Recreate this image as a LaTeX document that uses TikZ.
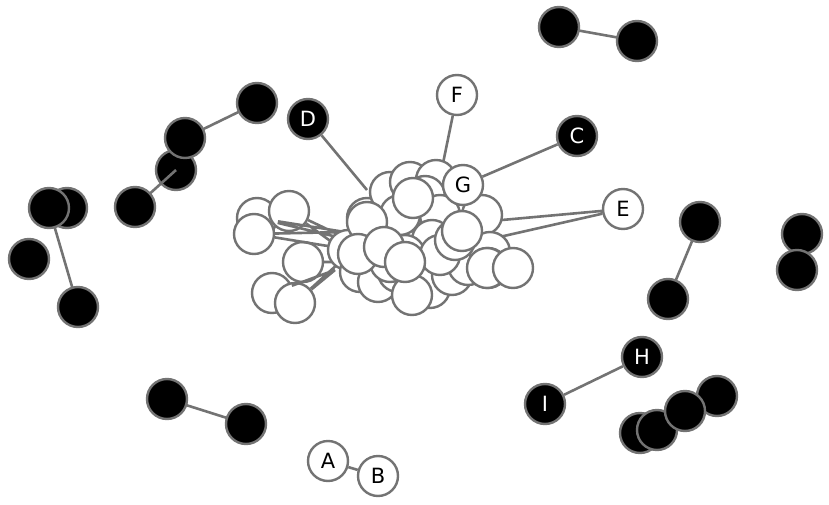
\documentclass[tikz,border=0pt]{standalone}
\usepackage{fontspec}
\setmainfont{DejaVu Sans}
\begin{document}
\begin{tikzpicture}[x=1pt,y=-1pt,
 wn/.style={circle,draw=gray!90!black,line width=2.4pt,fill=white,minimum size=40pt,inner sep=0pt,font=\fontsize{21}{21}\selectfont},
 bn/.style={wn,fill=black,text=white},
 ed/.style={draw=gray!90!black,line width=2.6pt}]
\useasboundingbox (0,0) rectangle (829,505);
\foreach \n/\x/\y in {c1/367/190,c2/440/178,c3/480/222,c4/495/238,c5/350/240,c6/345/232,c7/340/248,c8/335/270,c9/340/262}
  \coordinate (\n) at (\x,\y);
\node[wn] (L1) at (257,218) {};
\node[wn] (L2) at (289,211) {};
\node[wn] (L3) at (254,234) {};
\node[wn] (L4) at (303,262) {};
\node[wn] (L5) at (272,293) {};
\node[wn] (L6) at (295,303) {};
\draw[ed] (L1)--(c6) (L2)--(c5) (L3)--(c7) (L2)--(c7) (L1)--(c5) (L3)--(c6);
\draw[ed] (L4)--(c9) (L5)--(c8) (L6)--(c8) (L6)--(c9);
\node[bn] (D) at (308,119) {D};
\node[wn] (F) at (457,95) {F};
\node[bn] (C) at (577,136) {C};
\node[wn] (E) at (623,209) {E};
\draw[ed] (D)--(c1) (F)--(c2);
\draw[ed] (E)--(c3) (E)--(c4);
\foreach \n/\x/\y in {m1/367/218,m2/390/192,m3/410/182,m4/436/180,m5/425/196,m6/400/215,m7/440/215,m8/348/250,m9/360/272,m10/378/282,m11/398/272,m12/420/262,m13/430/288,m14/452/275,m15/468/265,m16/482/215,m17/490/252,m18/488/268,m19/432/240,m20/412/295,m21/367/250,m22/390/262,m23/405/255,m24/440/255,m25/455/240}
  \node[wn] (\n) at (\x,\y) {};
\node[wn] (G) at (463,185) {G};
\draw[ed] (C)--(G);
\node[wn] (n1) at (367,222) {};
\node[wn] (n2) at (413,198) {};
\node[wn] (n3) at (462,231) {};
\node[wn] (n4) at (487,268) {};
\node[wn] (n5) at (513,268) {};
\node[wn] (n6) at (358,254) {};
\node[wn] (n7) at (384,247) {};
\node[wn] (n8) at (405,262) {};
\draw[ed] (559,27)--(637,41);
\node[bn] at (559,27) {}; \node[bn] at (637,41) {};
\draw[ed] (257,103)--(185,138);
\node[bn] at (257,103) {};
\node[bn] at (176,170) {};
\draw[ed] (176,170)--(135,207);
\node[bn] at (185,138) {};
\node[bn] at (135,207) {};
\node[bn] at (67,208) {};
\draw[ed] (49,208)--(78,307);
\node[bn] at (49,208) {};
\node[bn] at (29,259) {};
\node[bn] at (78,307) {};
\draw[ed] (700,222)--(668,299);
\node[bn] at (700,222) {}; \node[bn] at (668,299) {};
\node[bn] at (802,234) {}; \node[bn] at (797,270) {};
\draw[ed] (167,399)--(246,424);
\node[bn] at (167,399) {}; \node[bn] at (246,424) {};
\node[bn] (H) at (642,357) {H};
\node[bn] (I) at (545,404) {I};
\draw[ed] (H)--(I);
\node[bn] at (717,396) {};
\node[bn] at (640,433) {};
\node[bn] at (657,430) {};
\node[bn] at (685,411) {};
\node[wn] (A) at (328,461) {A};
\node[wn] (B) at (378,476) {B};
\draw[ed] (A)--(B);
\end{tikzpicture}
\end{document}
